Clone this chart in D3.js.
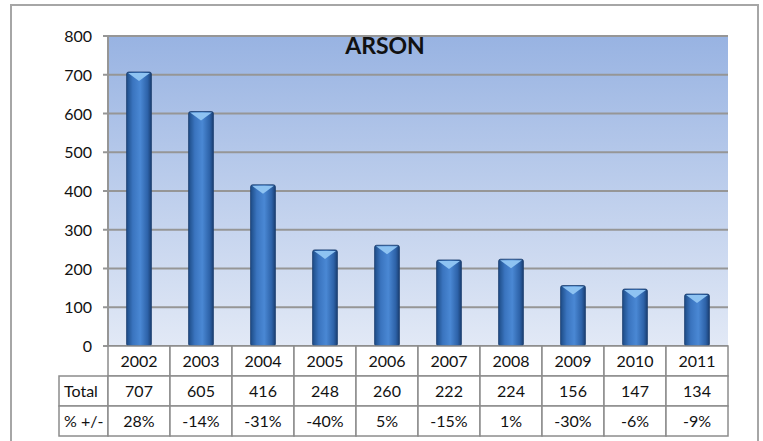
<!DOCTYPE html>
<html lang="en">
<head>
<meta charset="utf-8">
<title>arson</title>
<script src="https://d3js.org/d3.v7.js"></script>
<style type="text/css">
	body { margin: 0; background: #fff; }
	text { font-family: Lato, "Noto Sans", sans-serif; fill: #111; }
</style>
</head>
<body>
<div id="chart"></div>
<script>
// data
const years = ['2002','2003','2004','2005','2006','2007','2008','2009','2010','2011'];
const totals = [707, 605, 416, 248, 260, 222, 224, 156, 147, 134];
const changes = ['28%','-14%','-31%','-40%','5%','-15%','1%','-30%','-6%','-9%'];
const yTicks = [0, 100, 200, 300, 400, 500, 600, 700, 800];

const W = 763, H = 441;
const plot = {left: 108, right: 728, top: 36, bottom: 346};
const rowH = 30;

const svg = d3.select("#chart").append("svg")
	.attr("width", W).attr("height", H);

const defs = svg.append("defs");
const bg = defs.append("linearGradient").attr("id", "bg")
	.attr("x1", 0).attr("y1", 0).attr("x2", 0).attr("y2", 1);
bg.append("stop").attr("offset", "0%").attr("stop-color", "#98b3e2");
bg.append("stop").attr("offset", "100%").attr("stop-color", "#e2e9f6");

const barG = defs.append("linearGradient").attr("id", "bar")
	.attr("x1", 0).attr("y1", 0).attr("x2", 1).attr("y2", 0);
barG.append("stop").attr("offset", "0%").attr("stop-color", "#1d4c86");
barG.append("stop").attr("offset", "25%").attr("stop-color", "#3a74bf");
barG.append("stop").attr("offset", "55%").attr("stop-color", "#4a88d4");
barG.append("stop").attr("offset", "85%").attr("stop-color", "#2d62a8");
barG.append("stop").attr("offset", "100%").attr("stop-color", "#1a3f72");

// outer frame
svg.append("rect").attr("x", 11).attr("y", 5).attr("width", 747).attr("height", 445)
	.attr("fill", "none").attr("stroke", "#a6a6a6").attr("stroke-width", 2);

const x = d3.scaleBand().domain(years).range([plot.left, plot.right]).paddingInner(0.6).paddingOuter(0.3);
const xCell = d3.scaleBand().domain(years).range([plot.left, plot.right]);
const y = d3.scaleLinear().domain([0, 800]).range([plot.bottom, plot.top]);

svg.append("rect").attr("x", plot.left).attr("y", plot.top)
	.attr("width", plot.right - plot.left).attr("height", plot.bottom - plot.top)
	.attr("fill", "url(#bg)");

// grid
svg.append("g").selectAll("line").data(yTicks).join("line")
	.attr("x1", plot.left - 5).attr("x2", plot.right)
	.attr("y1", d => y(d)).attr("y2", d => y(d))
	.attr("stroke", "#969696").attr("stroke-width", 2);
svg.append("line").attr("x1", plot.left).attr("x2", plot.left)
	.attr("y1", plot.top).attr("y2", plot.bottom)
	.attr("stroke", "#969696").attr("stroke-width", 2);

// y labels
svg.append("g").selectAll("text").data(yTicks).join("text")
	.attr("x", plot.left - 16).attr("y", d => y(d) + 6)
	.attr("text-anchor", "end").attr("font-size", 16)
	.text(d => d);

// bars
const bars = svg.append("g").selectAll("g").data(totals).join("g");
bars.append("rect")
	.attr("x", (d, i) => x(years[i]))
	.attr("y", d => y(d))
	.attr("width", x.bandwidth())
	.attr("height", d => y(0) - y(d))
	.attr("rx", 2)
	.attr("fill", "url(#bar)")
	.attr("stroke", "#1b3e6e").attr("stroke-width", 0.8);
bars.append("path")
	.attr("d", (d, i) => {
		const x0 = x(years[i]), bw = x.bandwidth(), t = y(d);
		return `M${x0 + 1.5},${t + 1}L${x0 + bw - 1.5},${t + 1}L${x0 + bw / 2},${t + 9}Z`;
	})
	.attr("fill", "#8ec3f2");

// title
svg.append("text").attr("x", 385).attr("y", 54)
	.attr("text-anchor", "middle").attr("font-size", 23).attr("font-weight", "bold")
	.text("ARSON");

// table
const table = svg.append("g");
const rows = [years, totals, changes];
const labels = [null, 'Total', '% +/-'];
const tableLeft = 59;
rows.forEach((vals, r) => {
	const top = plot.bottom + r * rowH;
	if (labels[r]) {
		table.append("rect").attr("x", tableLeft).attr("y", top)
			.attr("width", plot.left - tableLeft).attr("height", rowH)
			.attr("fill", "#fff").attr("stroke", "#8c8c8c").attr("stroke-width", 1.5);
		table.append("text").attr("x", tableLeft + 5).attr("y", top + rowH / 2 + 6)
			.attr("font-size", 16).text(labels[r]);
	}
	table.selectAll(null).data(vals).join("rect")
		.attr("x", (d, i) => xCell(years[i])).attr("y", top)
		.attr("width", xCell.bandwidth()).attr("height", rowH)
		.attr("fill", "#fff").attr("stroke", "#8c8c8c").attr("stroke-width", 1.5);
	table.selectAll(null).data(vals).join("text")
		.attr("x", (d, i) => xCell(years[i]) + xCell.bandwidth() / 2)
		.attr("y", top + rowH / 2 + 6)
		.attr("text-anchor", "middle").attr("font-size", 16)
		.text(d => d);
});
</script>
</body>
</html>
